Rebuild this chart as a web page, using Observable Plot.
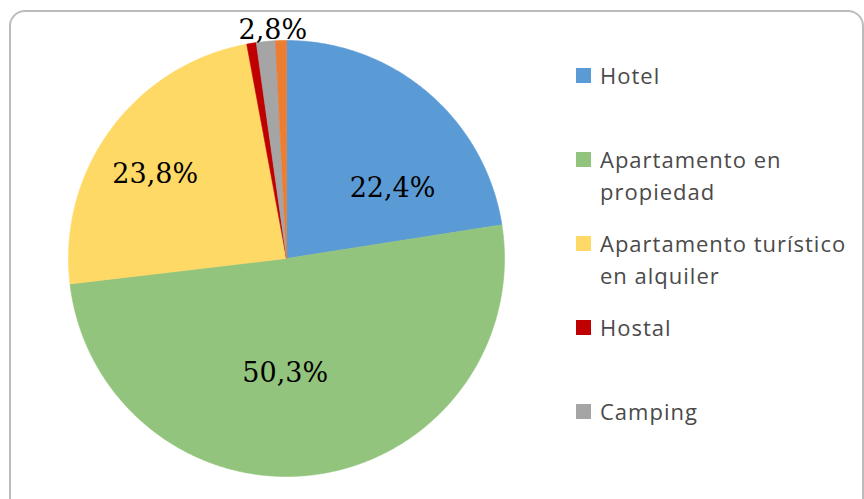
<!DOCTYPE html>
<html><head><meta charset="utf-8">
<script src="https://cdn.jsdelivr.net/npm/d3@7"></script>
<script src="https://cdn.jsdelivr.net/npm/@observablehq/plot@0.6"></script>
<style>
html,body{margin:0;padding:0;background:#fff;width:864px;height:499px;overflow:hidden;position:relative;font-family:"Open Sans",sans-serif}
#frame{position:absolute;left:9px;top:10px;width:855px;height:530px;border:2px solid #bcbcbc;border-radius:16px;box-sizing:border-box}
#chart{position:absolute;left:0;top:0}
#legend{position:absolute;left:576px;top:59px}
.item{height:84px;display:flex;align-items:flex-start}
.sw{width:15px;height:15px;margin-top:9px;margin-right:9px;flex:none}
.lab{font-size:22px;line-height:32px;letter-spacing:1px;color:#4a4a4a;width:262px}
</style></head><body>
<div id="frame"></div><div id="chart"></div><div id="legend"></div>
<script>
// Data
const categories = ["Hotel", "Apartamento en propiedad", "Apartamento turístico en alquiler", "Hostal", "Camping", "Otros"];
const values = [22.4, 50.3, 23.8, 0.7, 1.4, 0.8];
const labels = ["22,4%", "50,3%", "23,8%", "", "2,8%", ""];
const colors = ["#5B9BD5", "#93C47D", "#FFD966", "#C00000", "#A5A5A5", "#ED7D31"];
const legendCount = 5;

// Label placement (style): radius fraction and pixel nudges
const labelStyle = {
  "Hotel": {r: 0.6, dx: 21, dy: 29},
  "Apartamento en propiedad": {r: 0.6, dx: -19, dy: -15},
  "Apartamento turístico en alquiler": {r: 0.6, dx: -26, dy: -7},
  "Camping": {r: 1.05, dx: 8, dy: 0}
};

const total = d3.sum(values);
let acc = 0;
const slices = categories.map((name, i) => {
  const a0 = acc / total * 2 * Math.PI;
  acc += values[i];
  const a1 = acc / total * 2 * Math.PI;
  return {name, a0, a1, label: labels[i]};
});

const points = [];
for (const s of slices) {
  points.push({name: s.name, x: 0, y: 0});
  const n = Math.max(2, Math.ceil((s.a1 - s.a0) / (Math.PI / 360)));
  for (let k = 0; k <= n; k++) {
    const a = s.a0 + (s.a1 - s.a0) * k / n;
    points.push({name: s.name, x: Math.sin(a), y: Math.cos(a)});
  }
  points.push({name: s.name, x: 0, y: 0});
}

const textData = slices.filter(s => s.label).map(s => {
  const st = labelStyle[s.name];
  const m = (s.a0 + s.a1) / 2;
  return {name: s.name, label: s.label, x: st.r * Math.sin(m), y: st.r * Math.cos(m), dx: st.dx, dy: st.dy};
});

const chart = Plot.plot({
  width: 864,
  height: 499,
  margin: 0,
  x: {domain: [-1, 1], range: [68, 504], axis: null},
  y: {domain: [-1, 1], range: [476, 40], axis: null},
  color: {domain: categories, range: colors},
  style: {background: "transparent", overflow: "visible"},
  marks: [
    Plot.line(points, {x: "x", y: "y", z: "name", fill: "name", stroke: "name", strokeWidth: 0.6, curve: "linear"}),
    ...textData.map(t => Plot.text([t], {x: "x", y: "y", text: "label", dx: t.dx, dy: t.dy,
      fontFamily: "DejaVu Serif", fontSize: 27, fill: "#000"}))
  ]
});
document.getElementById("chart").appendChild(chart);

const legend = document.getElementById("legend");
categories.slice(0, legendCount).forEach((c, i) => {
  const item = document.createElement("div");
  item.className = "item";
  const sw = document.createElement("div");
  sw.className = "sw";
  sw.style.background = colors[i];
  const lab = document.createElement("div");
  lab.className = "lab";
  lab.textContent = c;
  item.appendChild(sw); item.appendChild(lab);
  legend.appendChild(item);
});
</script>
</body></html>
